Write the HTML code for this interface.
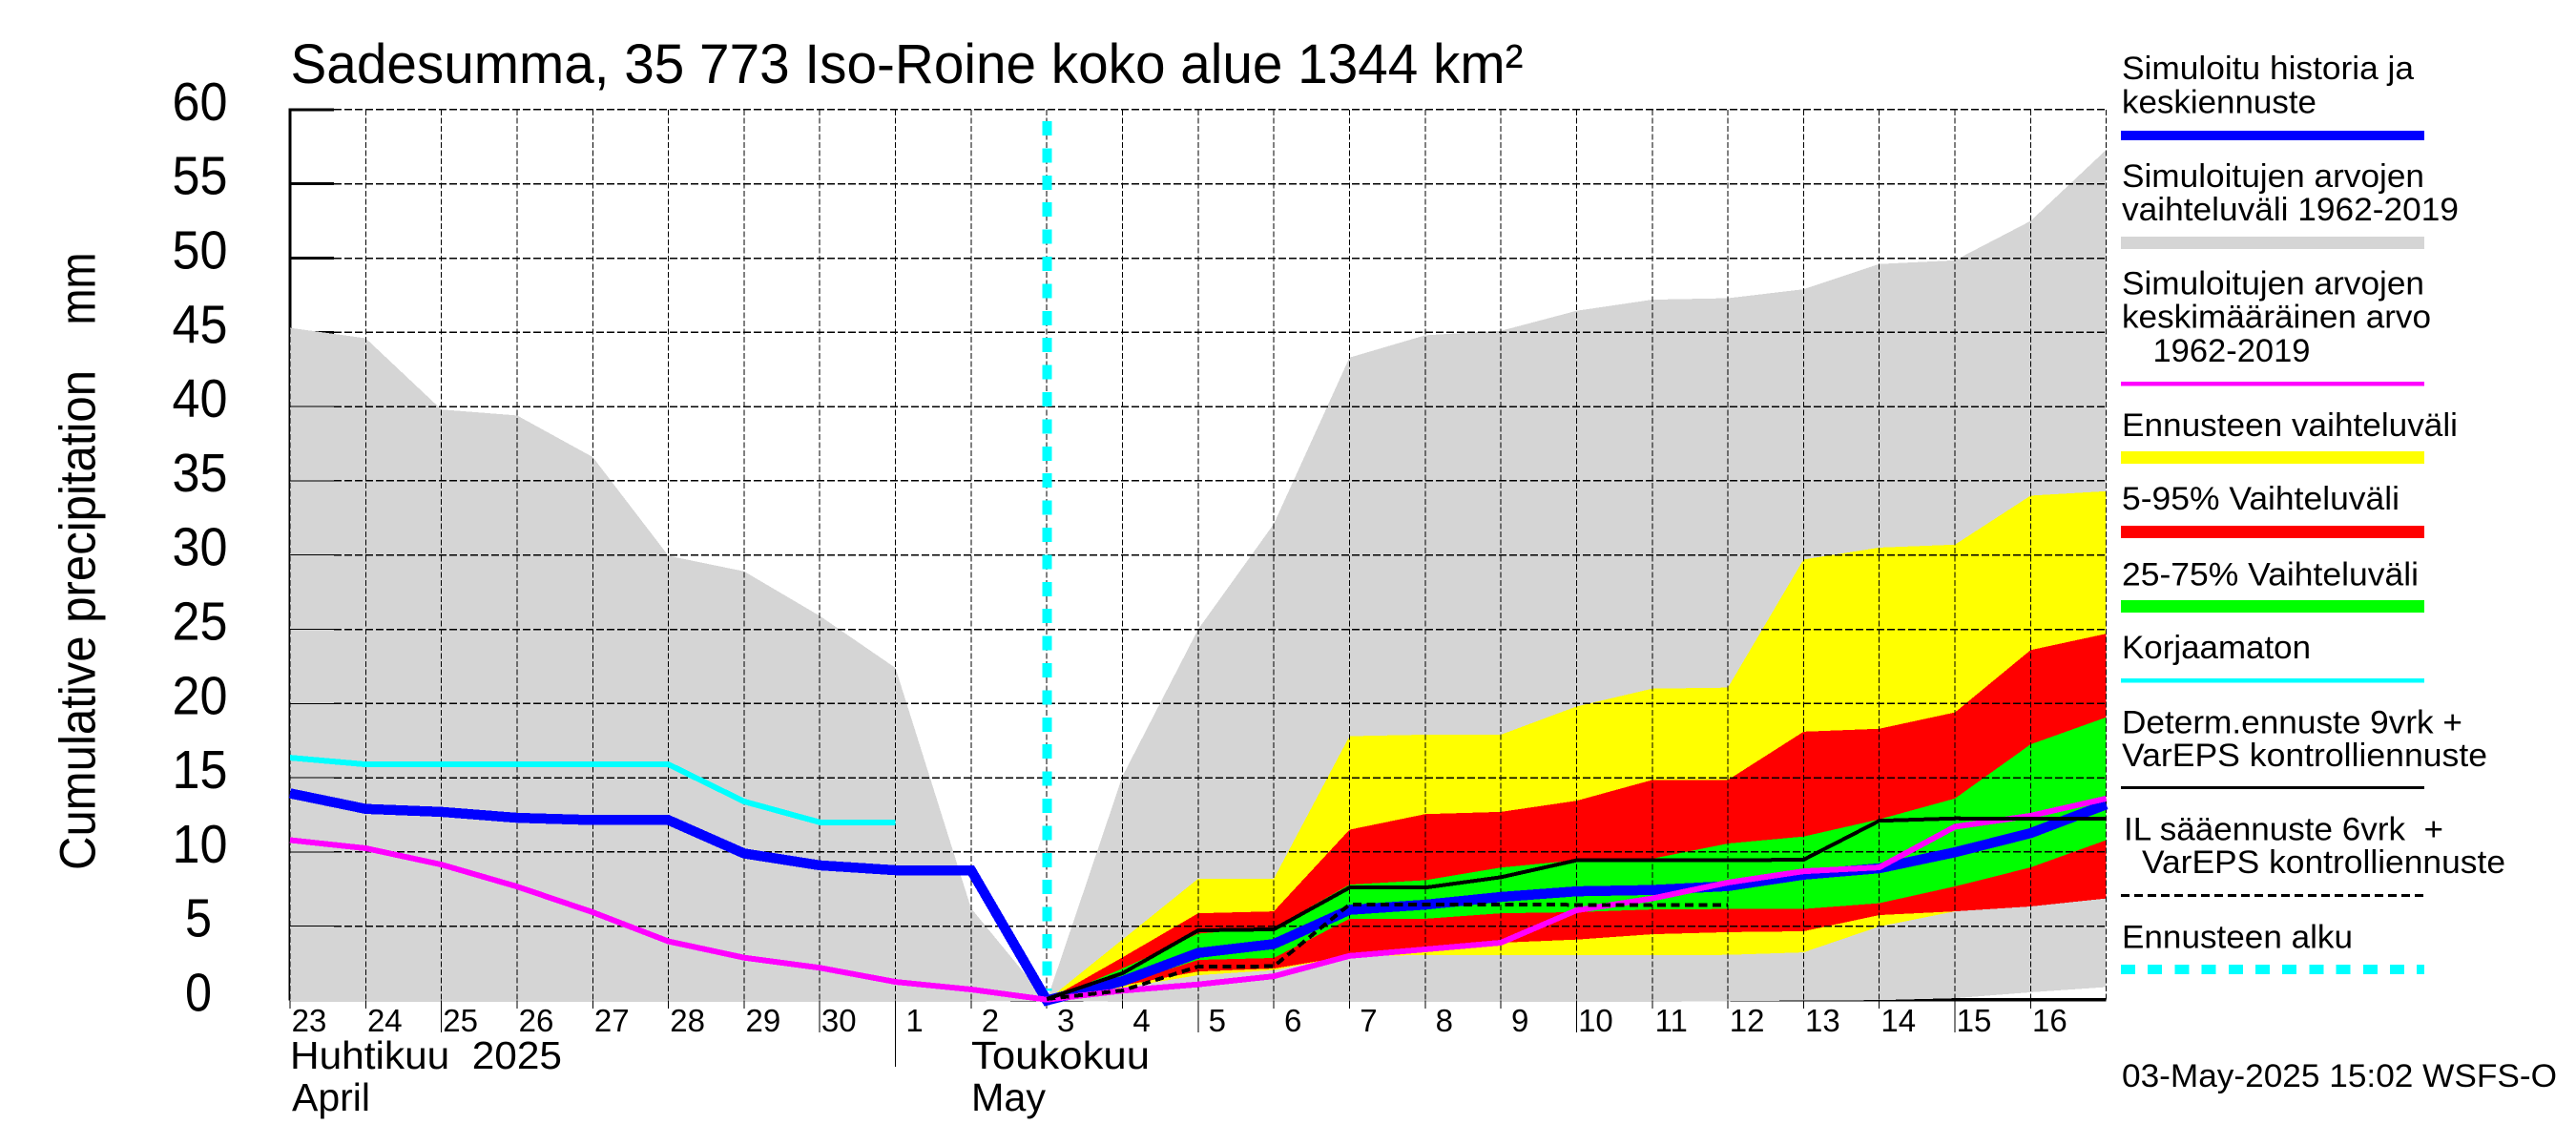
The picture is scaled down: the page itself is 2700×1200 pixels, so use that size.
<!DOCTYPE html>
<html lang="fi">
<head>
<meta charset="utf-8">
<title>Sadesumma, 35 773 Iso-Roine koko alue 1344 km²</title>
<style>
html,body{margin:0;padding:0;background:#fff;}
svg{display:block;}
text{font-family:"Liberation Sans",sans-serif;fill:#000;white-space:pre;}
.leg{font-size:34px;}
</style>
</head>
<body>
<svg id="chart" xmlns="http://www.w3.org/2000/svg" width="2700" height="1200" viewBox="0 0 2700 1200">
  <rect x="0" y="0" width="2700" height="1200" fill="#fff"/>
  <g id="plot"></g>
  <text x="304.5" y="87" font-size="58" textLength="1292" lengthAdjust="spacingAndGlyphs">Sadesumma, 35 773 Iso-Roine koko alue 1344 km²</text>
  <text transform="translate(99.5,912) rotate(-90)" font-size="53" textLength="524" lengthAdjust="spacingAndGlyphs">Cumulative precipitation</text>
  <text transform="translate(99.5,340.5) rotate(-90)" font-size="53" textLength="76" lengthAdjust="spacingAndGlyphs">mm</text>
  <text x="304" y="1120" font-size="41" textLength="285" lengthAdjust="spacingAndGlyphs" xml:space="preserve">Huhtikuu  2025</text>
  <text x="306" y="1164" font-size="41" textLength="82" lengthAdjust="spacingAndGlyphs">April</text>
  <text x="1018" y="1120" font-size="41" textLength="187" lengthAdjust="spacingAndGlyphs">Toukokuu</text>
  <text x="1018" y="1164" font-size="41" textLength="78" lengthAdjust="spacingAndGlyphs">May</text>

  <g shape-rendering="crispEdges">
    <g>
      <text class="leg" x="2224" y="83" textLength="306" lengthAdjust="spacingAndGlyphs">Simuloitu historia ja</text>
      <text class="leg" x="2224" y="118.5" textLength="204" lengthAdjust="spacingAndGlyphs">keskiennuste</text>
      <rect x="2223" y="137" width="318" height="10" fill="#0000ff"/>
    </g>
    <g>
      <text class="leg" x="2224" y="196" textLength="317" lengthAdjust="spacingAndGlyphs">Simuloitujen arvojen</text>
      <text class="leg" x="2224" y="231" textLength="353" lengthAdjust="spacingAndGlyphs">vaihteluväli 1962-2019</text>
      <rect x="2223" y="248" width="318" height="13" fill="#d5d5d5"/>
    </g>
    <g>
      <text class="leg" x="2224" y="308.5" textLength="317" lengthAdjust="spacingAndGlyphs">Simuloitujen arvojen</text>
      <text class="leg" x="2224" y="343.5" textLength="324" lengthAdjust="spacingAndGlyphs">keskimääräinen arvo</text>
      <text class="leg" x="2256.5" y="379" textLength="165" lengthAdjust="spacingAndGlyphs">1962-2019</text>
      <rect x="2223" y="400" width="318" height="4.5" fill="#ff00ff"/>
    </g>
    <g>
      <text class="leg" x="2224" y="457" textLength="352" lengthAdjust="spacingAndGlyphs">Ennusteen vaihteluväli</text>
      <rect x="2223" y="473" width="318" height="13" fill="#ffff00"/>
    </g>
    <g>
      <text class="leg" x="2224" y="534" textLength="291" lengthAdjust="spacingAndGlyphs">5-95% Vaihteluväli</text>
      <rect x="2223" y="551" width="318" height="13" fill="#ff0000"/>
    </g>
    <g>
      <text class="leg" x="2224" y="613.5" textLength="311" lengthAdjust="spacingAndGlyphs">25-75% Vaihteluväli</text>
      <rect x="2223" y="629" width="318" height="13" fill="#00ff00"/>
    </g>
    <g>
      <text class="leg" x="2224" y="690" textLength="198" lengthAdjust="spacingAndGlyphs">Korjaamaton</text>
      <rect x="2223" y="711" width="318" height="4.5" fill="#00ffff"/>
    </g>
    <g>
      <text class="leg" x="2224" y="768.5" textLength="357" lengthAdjust="spacingAndGlyphs">Determ.ennuste 9vrk +</text>
      <text class="leg" x="2224" y="803" textLength="383" lengthAdjust="spacingAndGlyphs">VarEPS kontrolliennuste</text>
      <rect x="2223" y="824" width="318" height="3" fill="#000"/>
    </g>
    <g>
      <text class="leg" x="2226" y="880.5" textLength="335" lengthAdjust="spacingAndGlyphs" xml:space="preserve">IL sääennuste 6vrk  +</text>
      <text class="leg" x="2245" y="915" textLength="381" lengthAdjust="spacingAndGlyphs">VarEPS kontrolliennuste</text>
      <line x1="2223" y1="938.5" x2="2541" y2="938.5" stroke="#000" stroke-width="3" stroke-dasharray="9 5"/>
    </g>
    <g>
      <text class="leg" x="2224" y="993.5" textLength="242" lengthAdjust="spacingAndGlyphs">Ennusteen alku</text>
      <line x1="2223" y1="1016" x2="2541" y2="1016" stroke="#00ffff" stroke-width="10" stroke-dasharray="15 13.2"/>
    </g>
  </g>
  <text x="2224" y="1139" font-size="34" textLength="456" lengthAdjust="spacingAndGlyphs">03-May-2025 15:02 WSFS-O</text>
</svg>

<script>
// ---- chart data (mm, cumulative); index 0 = 23 April, one entry per day ----
const dayLabels = ['23','24','25','26','27','28','29','30','1','2','3','4','5','6','7','8','9','10','11','12','13','14','15','16'];
const yTicks = [0,5,10,15,20,25,30,35,40,45,50,55,60];

const rangeUpper = [45.3,44.6,39.8,39.4,36.6,29.95,28.9,25.9,22.4,6.2,0,15.1,25.0,32.1,43.3,44.8,45.1,46.45,47.2,47.3,47.9,49.6,49.85,52.5,57.3];
const rangeLower = [-0.1,-0.1,-0.1,-0.1,-0.1,-0.1,-0.1,-0.1,-0.1,-0.1,0,-0.1,-0.1,-0.1,-0.1,-0.1,-0.1,-0.1,-0.1,-0.05,0,0.02,0.15,0.55,0.9];

// forecast bands start at 3 May (day index 10)
const forecastStart = 10;
const yellowUpper = [0,4.1,8.2,8.2,17.8,17.9,17.9,19.8,21.0,21.07,29.7,30.5,30.7,34.0,34.3];
const yellowLower = [0,0.87,1.7,2.04,3.0,3.05,3.05,3.05,3.05,3.07,3.24,4.98,6.0,6.39,6.87];
const redUpper = [0,2.9,5.87,6.0,11.5,12.55,12.7,13.45,14.85,14.85,18.1,18.3,19.4,23.6,24.7];
const redLower = [0,1.0,1.95,2.15,3.0,3.44,3.89,4.1,4.46,4.6,4.66,5.75,6.0,6.33,6.87];
const greenUpper = [0,2.15,4.5,4.9,7.8,8.1,8.95,9.45,9.55,10.57,11.04,12.2,13.6,17.25,19.07];
const greenLower = [0,1.1,2.73,2.86,5.5,5.5,5.87,5.95,6.13,6.16,6.16,6.55,7.68,8.96,10.8];

const meanSeries = [13.95,12.9,12.7,12.3,12.15,12.15,9.9,9.1,8.77,8.77,0,1.3,3.2,3.8,6.1,6.45,6.97,7.35,7.44,7.7,8.47,8.9,9.98,11.27,13.2];
const climateMean = [10.8,10.25,9.15,7.67,5.94,3.98,2.88,2.2,1.25,0.74,0.05,0.66,1.08,1.63,3.0,3.44,3.89,6.07,6.87,7.94,8.7,8.96,11.7,12.44,13.6];
const uncorrected = [16.35,15.9,15.9,15.9,15.9,15.9,13.4,12.0,12.0];
const determ = [0.1,1.83,4.72,4.79,7.6,7.6,8.3,9.44,9.44,9.44,9.48,12.1,12.26,12.24,12.24];
const ilForecast = [0.1,0.67,2.28,2.3,6.46,6.46,6.46,6.44,6.44,6.44];

// ---- axis functions ----
const X0 = 304, DAY_W = 79.32, Y0 = 1048.5, MM_H = 15.56;
const dayCount = dayLabels.length;
const xScale = i => X0 + i * DAY_W;
const yScale = v => Y0 - v * MM_H;
const plot = document.getElementById('plot');
const NS = 'http://www.w3.org/2000/svg';

function make(tag, props) {
  const el = document.createElementNS(NS, tag);
  for (const k in props) el.setAttribute(k, props[k]);
  plot.appendChild(el);
  return el;
}
function bandPoints(upper, lower, start) {
  const pts = [];
  upper.forEach((v, i) => pts.push(xScale(i + start) + ',' + yScale(v)));
  for (let i = lower.length - 1; i >= 0; i--) pts.push(xScale(i + start) + ',' + yScale(lower[i]));
  return pts.join(' ');
}
function linePoints(values, start) {
  return values.map((v, i) => xScale(i + start) + ',' + yScale(v)).join(' ');
}

// axis lines and ticks below the grey band
const xAxisLine = make('line', {x1: X0, y1: Y0 - 1, x2: xScale(dayCount), y2: Y0 - 1, stroke: '#000', 'stroke-width': 3.5, 'shape-rendering': 'crispEdges'});


const yAxisLine = make('line', {x1: X0, y1: yScale(60) - 1.5, x2: X0, y2: Y0, stroke: '#000', 'stroke-width': 3, 'shape-rendering': 'crispEdges'});


yTicks.forEach(t => {
  const tick = make('line', {x1: X0, y1: yScale(t), x2: X0 + 46, y2: yScale(t), stroke: '#000', 'stroke-width': 3, 'shape-rendering': 'crispEdges'});
  
  
});

// filled bands
const greyBand = make('polygon', {points: bandPoints(rangeUpper, rangeLower, 0), fill: '#d5d5d5', 'shape-rendering': 'crispEdges'});


const yellowBand = make('polygon', {points: bandPoints(yellowUpper, yellowLower, forecastStart), fill: '#ffff00', 'shape-rendering': 'crispEdges'});


const redBand = make('polygon', {points: bandPoints(redUpper, redLower, forecastStart), fill: '#ff0000', 'shape-rendering': 'crispEdges'});


const greenBand = make('polygon', {points: bandPoints(greenUpper, greenLower, forecastStart), fill: '#00ff00', 'shape-rendering': 'crispEdges'});



// grid
yTicks.forEach(t => {
  if (t === 0) return;
  const h = make('line', {x1: X0 + 46, y1: yScale(t), x2: xScale(dayCount), y2: yScale(t), stroke: '#000', 'stroke-width': 1.5, 'stroke-dasharray': '8 3', 'shape-rendering': 'crispEdges'});
  
  
  if (t <= 40) {
    const s = make('line', {x1: X0, y1: yScale(t), x2: X0 + 46, y2: yScale(t), stroke: '#000', 'stroke-width': 1, 'shape-rendering': 'crispEdges'});
    
    
  }
});
for (let i = 0; i <= dayCount; i++) {
  const v = make('line', {x1: xScale(i), y1: yScale(60), x2: xScale(i), y2: Y0, stroke: '#000', 'stroke-width': 1, 'stroke-dasharray': '6 2.5', 'shape-rendering': 'crispEdges'});
  
  
}
for (let i = 0; i < dayCount; i++) {
  const isMonth = dayLabels[i] === '1';
  const isLong = (i + 3) % 5 === 0 && !isMonth;
  const bottom = isMonth ? 1118 : (isLong ? 1082 : 1057);
  const t = make('line', {x1: xScale(i), y1: Y0, x2: xScale(i), y2: bottom, stroke: '#000', 'stroke-width': 1, 'shape-rendering': 'crispEdges'});
  
  
  const label = make('text', {x: xScale(i) + 20, y: 1081, 'font-size': 33, 'text-anchor': 'middle'});
  
  
  label.textContent = dayLabels[i];
}

// y tick labels
yTicks.forEach(t => {
  const s = String(t);
  const label = make('text', {
    x: s.length > 1 ? 238.5 : 222,
    y: yScale(t) + 11,
    'font-size': 57,
    'text-anchor': 'end',
    textLength: s.length > 1 ? 58 : 28,
    lengthAdjust: 'spacingAndGlyphs'
  });
  
  
  label.textContent = s;
});

// forecast start marker
const startMarker = make('line', {x1: xScale(forecastStart) + 0.5, y1: 127, x2: xScale(forecastStart) + 0.5, y2: Y0 - 10, stroke: '#00ffff', 'stroke-width': 10, 'stroke-dasharray': '15 13.4', 'shape-rendering': 'crispEdges'});



// series lines
const lineBase = {fill: 'none', 'stroke-linejoin': 'miter', 'shape-rendering': 'crispEdges'};
const uncorrectedLine = make('polyline', Object.assign({points: linePoints(uncorrected, 0), stroke: '#00ffff', 'stroke-width': 6}, lineBase));


const meanLine = make('polyline', Object.assign({points: linePoints(meanSeries, 0), stroke: '#0000ff', 'stroke-width': 10.5}, lineBase));


const climateLine = make('polyline', Object.assign({points: linePoints(climateMean, 0), stroke: '#ff00ff', 'stroke-width': 6}, lineBase));


const determLine = make('polyline', Object.assign({points: linePoints(determ, forecastStart), stroke: '#000', 'stroke-width': 4}, lineBase));


const ilLine = make('polyline', Object.assign({points: linePoints(ilForecast, forecastStart), stroke: '#000', 'stroke-width': 4, 'stroke-dasharray': '9 5.5'}, lineBase));


</script>
</body>
</html>
